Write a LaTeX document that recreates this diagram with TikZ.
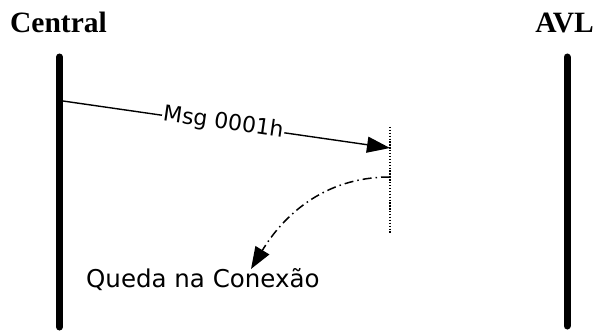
\documentclass[tikz,border=0pt]{standalone}
\usepackage{fontspec}
\setmainfont{Liberation Serif}
\newfontfamily\lblfont{DejaVu Sans}
\usetikzlibrary{arrows.meta}
\begin{document}
\begin{tikzpicture}[x=1pt,y=-1pt,
  lifeline/.style={line width=7pt,line cap=round},
  title/.style={font=\fontsize{29.5}{30}\selectfont\bfseries,inner sep=0pt},
  msg/.style={line width=1.4pt,-{Triangle[length=23pt,width=16pt]}},
  lbl/.style={font=\lblfont\fontsize{22}{24}\selectfont,inner sep=1pt},
  biglbl/.style={font=\lblfont\fontsize{24.5}{26}\selectfont,inner sep=0pt},
  cut/.style={line width=1.3pt,dash pattern=on 1.3pt off 1.6pt},
  lost/.style={line width=1.5pt,dash pattern=on 9pt off 4pt on 1.5pt off 4pt,-{Triangle[length=22pt,width=16pt]}}]
\useasboundingbox (0,0) rectangle (596,331);
\node[title,anchor=base west] (central) at (10,33) {Central};
\node[title,anchor=base east] (avl) at (594,33) {AVL};
\coordinate (ctop) at (59.5,57);
\coordinate (cbot) at (59.5,327);
\coordinate (atop) at (567,57);
\coordinate (abot) at (567,326);
\draw[lifeline] (ctop) -- (cbot);
\draw[lifeline] (atop) -- (abot);
\coordinate (mstart) at (63,101);
\coordinate (mend) at (390,148);
\draw[msg] (mstart) -- node[lbl,sloped,fill=white,pos=0.49,yshift=1pt] (mlbl) {Msg 0001h} (mend);
\coordinate (dtop) at (390,127);
\coordinate (dbot) at (390,234);
\draw[cut] (dtop) -- (dbot);
\coordinate (lstart) at (390,177);
\coordinate (lend) at (251,269);
\draw[lost] (lstart) .. controls (322,177) and (282,218) .. (lend);
\node[biglbl,anchor=base west] (queda) at (86,287) {Queda na Conexão};
\end{tikzpicture}
\end{document}
